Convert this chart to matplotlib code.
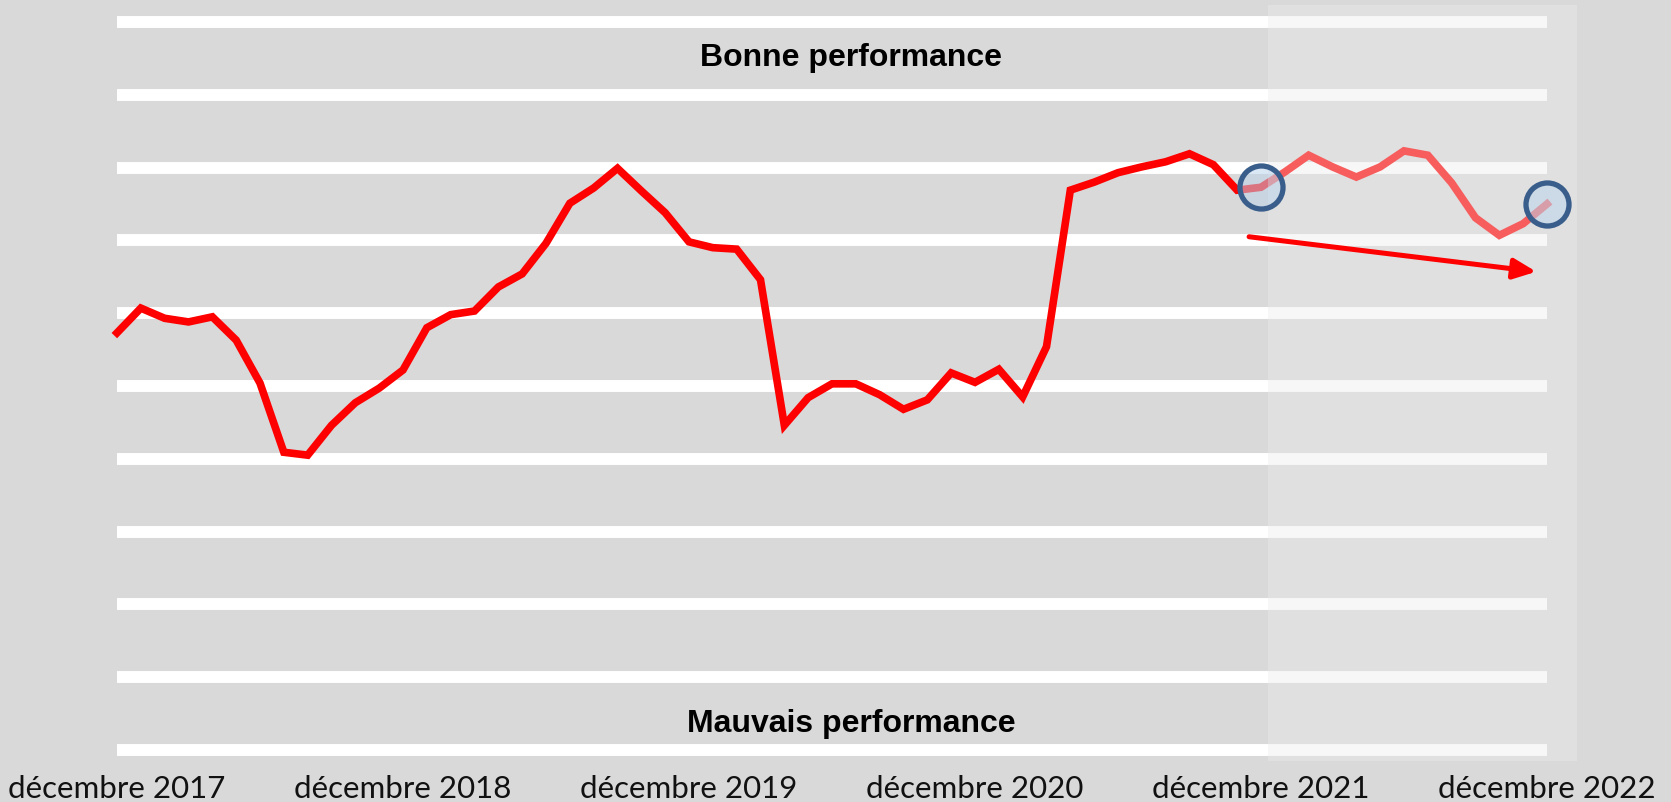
import numpy as np
import matplotlib
matplotlib.use('Agg')
import matplotlib.pyplot as plt
from matplotlib.patches import Rectangle

# monthly score, dec 2017 -> dec 2022 (0 = bottom gridline, 10 = top gridline)
score = [5.73, 6.07, 5.93, 5.88, 5.95, 5.63, 5.04, 4.09, 4.05, 4.46,
         4.77, 4.97, 5.22, 5.80, 5.98, 6.03, 6.36, 6.54, 6.96, 7.51,
         7.72, 7.99, 7.68, 7.38, 6.98, 6.90, 6.88, 6.46, 4.46, 4.84,
         5.03, 5.03, 4.88, 4.68, 4.81, 5.18, 5.05, 5.23, 4.85, 5.54,
         7.69, 7.80, 7.93, 8.01, 8.08, 8.19, 8.04, 7.69, 7.73, 7.94,
         8.17, 8.01, 7.87, 8.01, 8.23, 8.17, 7.79, 7.31, 7.07, 7.23,
         7.50]
tick_pos = [0, 12, 24, 36, 48, 60]
tick_labels = ['décembre 2017', 'décembre 2018', 'décembre 2019',
               'décembre 2020', 'décembre 2021', 'décembre 2022']
grid_levels = list(range(11))
highlight = [48, 60]          # circled months
trend_start = (47.5, 7.05)    # trend arrow
trend_end = (59.55, 6.57)
focus_x = (48.3, 61.27)       # lighter area (last year)
focus_y = (-0.15, 10.23)

W, H = 1671, 802
fig = plt.figure(figsize=(W / 100, H / 100), dpi=100, facecolor='#d9d9d9')
ax = fig.add_axes([117 / W, 52 / H, 1430 / W, 728 / H])
ax.set_facecolor('#d9d9d9')
ax.set_xlim(0, 60)
ax.set_ylim(0, 10)
for s in ax.spines.values():
    s.set_visible(False)

for g in grid_levels:
    ax.axhline(g, color='white', lw=8.6, zorder=1, clip_on=False,
               solid_capstyle='butt')

x = np.arange(len(score))
ax.plot(x, score, color='#ff0000', lw=5.5, zorder=2, clip_on=False,
        solid_joinstyle='miter')

ax.add_patch(Rectangle((focus_x[0], focus_y[0]), focus_x[1] - focus_x[0],
                       focus_y[1] - focus_y[0], facecolor='#ebebeb',
                       alpha=0.4, edgecolor='none', zorder=3, clip_on=False))

ax.scatter([x[i] for i in highlight], [score[i] for i in highlight], s=960,
           facecolor=(0.74, 0.83, 0.92, 0.55), edgecolor='#3a5e8c',
           linewidth=3.8, zorder=4, clip_on=False)

ax.annotate('', xy=trend_end, xytext=trend_start,
            arrowprops=dict(arrowstyle='-|>,head_length=0.8,head_width=0.36',
                            color='#ff0000', lw=3.6, mutation_scale=17,
                            shrinkA=0, shrinkB=0),
            zorder=5, annotation_clip=False)

ax.text(30.8, 9.5, 'Bonne performance', ha='center', va='center',
        fontsize=23, fontweight='bold', family='Liberation Sans', zorder=6)
ax.text(30.8, 0.36, 'Mauvais performance', ha='center', va='center',
        fontsize=23, fontweight='bold', family='Liberation Sans', zorder=6)

ax.set_yticks([])
ax.set_xticks(tick_pos)
ax.set_xticklabels(tick_labels, fontsize=22.5, family='Lato',
                   fontweight='normal', color='#111111')
ax.tick_params(axis='x', length=0, pad=18)

fig.savefig('out.png', dpi=100, facecolor=fig.get_facecolor())
